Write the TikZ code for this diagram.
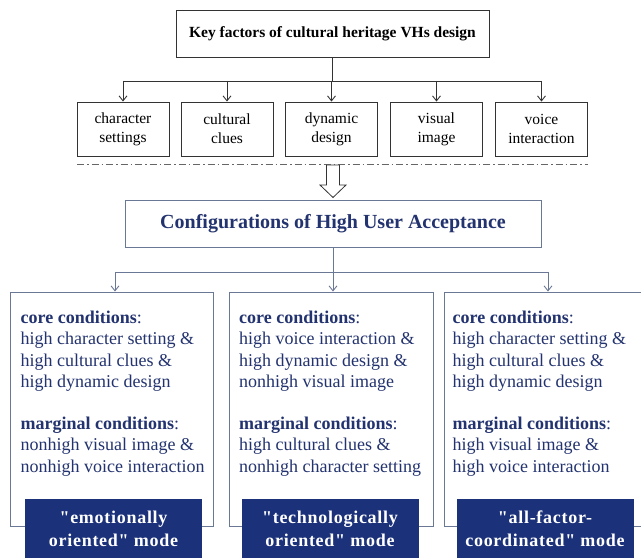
\documentclass[tikz,border=0pt]{standalone}
\usepackage{fontspec}
\setmainfont{Liberation Serif}
\newfontfamily\labelfont[LetterSpace=4]{Liberation Serif}
\usetikzlibrary{arrows.meta}
\definecolor{navy}{HTML}{23336F}
\definecolor{labelfill}{HTML}{1B317A}
\definecolor{frame}{HTML}{6A7896}
\definecolor{topline}{HTML}{333333}
\definecolor{dashgray}{HTML}{666666}
\tikzset{
  topbox/.style={draw=topline, line width=0.9pt, minimum width=313pt, minimum height=47pt, inner sep=0pt,
    font=\fontsize{15.5}{19}\selectfont\bfseries},
  factorbox/.style={draw=topline, line width=0.9pt, minimum width=92pt, minimum height=54pt, inner sep=0pt,
    align=center, font=\fontsize{15.5}{19}\selectfont},
  confbox/.style={draw=frame, line width=0.9pt, minimum width=416pt, minimum height=47pt, inner sep=0pt,
    text=navy, font=\fontsize{20}{24}\selectfont\bfseries},
  modebox/.style={draw=frame, line width=0.9pt, minimum height=234pt, inner sep=0pt},
  condtext/.style={anchor=north west, inner sep=0pt, align=left, text=navy,
    font=\fontsize{18}{21.2}\selectfont},
  modelabel/.style={fill=labelfill, text=white, minimum width=177pt, minimum height=59pt, inner sep=0pt,
    align=center, font=\fontsize{18}{23}\selectfont\labelfont\bfseries},
  topconn/.style={draw=topline, line width=0.9pt},
  topbarb/.style={topconn, -{Straight Barb[length=5pt,width=8pt]}},
  lowconn/.style={draw=frame, line width=0.9pt},
  lowbarb/.style={lowconn, -{Straight Barb[length=5pt,width=8pt]}},
}
\begin{document}
\begin{tikzpicture}[x=1pt,y=-1pt]
\useasboundingbox (0,0) rectangle (641,559);
\fill[white] (0,0) rectangle (641,559);

% top box
\node[topbox] (key) at (332.5,33.5) {Key factors of cultural heritage VHs design};

% factor boxes
\node[factorbox] (f1) at (123,129) {character\\settings};
\node[factorbox] (f2) at (227,129) {cultural\\clues};
\node[factorbox] (f3) at (331.5,129) {dynamic\\design};
\node[factorbox] (f4) at (436.5,129) {visual\\image};
\node[factorbox] (f5) at (541.5,129) {voice\\interaction};

% bus
\coordinate (busT) at (332.5,81);
\coordinate (busL) at (123,81);
\coordinate (busR) at (541.5,81);
\draw[topconn] (key.south) -- (busT);
\draw[topconn] (busL) -- (busR);
\foreach \f in {f1,f2,f3,f4,f5}{
  \draw[topbarb] (\f.north |- busT) -- (\f.north);
}

% dash-dot line
\coordinate (dl) at (77,164);
\coordinate (dr) at (588,164);
\draw[draw=dashgray, line width=0.9pt, dash pattern=on 7pt off 3pt on 1.5pt off 3pt] (dl) -- (dr);

% hollow block arrow
\draw[draw=topline, line width=0.8pt, fill=white]
  (326.5,165) -- (339.5,165) -- (339.5,185) -- (346,185) -- (333,197.5) -- (320,185) -- (326.5,185) -- cycle;

% configurations box
\node[confbox] (conf) at (333,223.5) {Configurations of High User Acceptance};

% lower bus
\coordinate (bus2T) at (333,272);
\coordinate (bus2L) at (115,272);
\coordinate (bus2R) at (548,272);
\draw[lowconn] (conf.south) -- (bus2T);
\draw[lowconn] (bus2L) -- (bus2R);

% mode boxes
\node[modebox, minimum width=203pt] (mA) at (111.5,409) {};
\node[modebox, minimum width=204pt] (mB) at (331,409) {};
\node[modebox, minimum width=201pt] (mC) at (544.5,409) {};

\draw[lowbarb] (bus2L) -- (bus2L |- mA.north);
\draw[lowbarb] (bus2T) -- (bus2T |- mB.north);
\draw[lowbarb] (bus2R) -- (bus2R |- mC.north);

% condition texts
\node[condtext] (tA) at (20.5,311) {\textbf{core conditions}:\\high character setting \&\\high cultural clues \&\\high dynamic design\\[21.2pt]\textbf{marginal conditions}:\\nonhigh visual image \&\\nonhigh voice interaction};
\node[condtext] (tB) at (239,311) {\textbf{core conditions}:\\high voice interaction \&\\high dynamic design \&\\nonhigh visual image\\[21.2pt]\textbf{marginal conditions}:\\high cultural clues \&\\nonhigh character setting};
\node[condtext] (tC) at (452.5,311) {\textbf{core conditions}:\\high character setting \&\\high cultural clues \&\\high dynamic design\\[21.2pt]\textbf{marginal conditions}:\\high visual image \&\\high voice interaction};

% mode labels
\node[modelabel] (lA) at (113.5,528.5) {"emotionally\\oriented" mode};
\node[modelabel] (lB) at (330,528.5) {"technologically\\oriented" mode};
\node[modelabel] (lC) at (545,528.5) {"all-factor-\\coordinated" mode};
\end{tikzpicture}
\end{document}
